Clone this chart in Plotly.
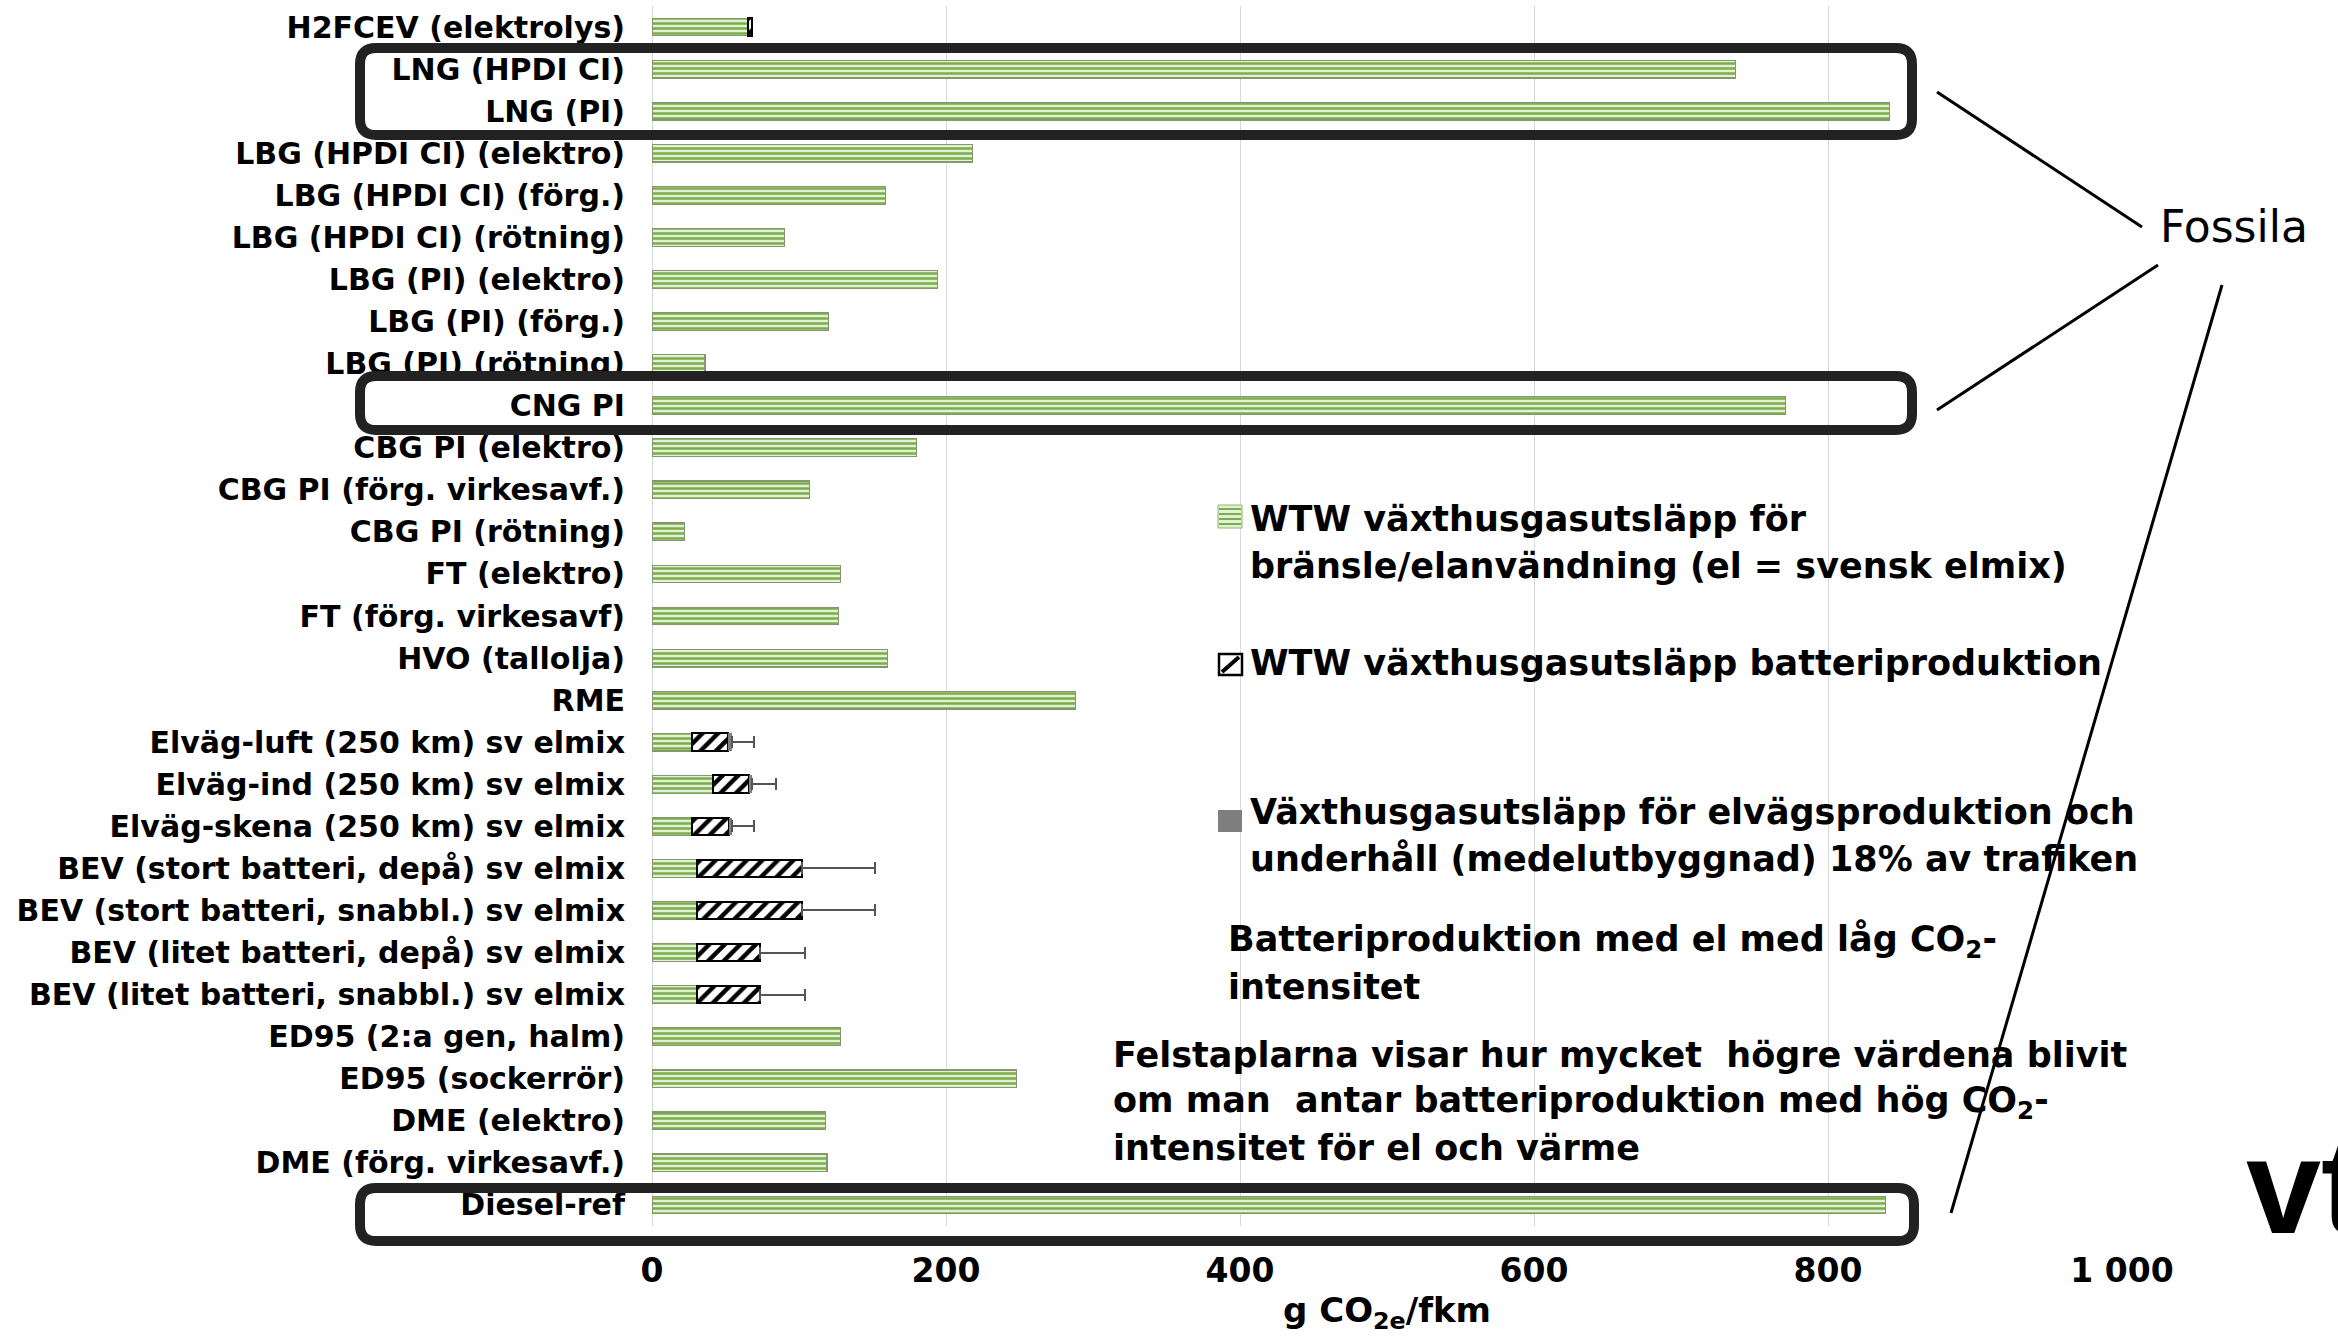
import plotly.graph_objects as go

# ---------------- data ----------------
categories = [
    "H2FCEV (elektrolys)", "LNG (HPDI CI)", "LNG (PI)",
    "LBG (HPDI CI) (elektro)", "LBG (HPDI CI) (förg.)", "LBG (HPDI CI) (rötning)",
    "LBG (PI) (elektro)", "LBG (PI) (förg.)", "LBG (PI) (rötning)",
    "CNG PI", "CBG PI (elektro)", "CBG PI (förg. virkesavf.)", "CBG PI (rötning)",
    "FT (elektro)", "FT (förg. virkesavf)", "HVO (tallolja)", "RME",
    "Elväg-luft (250 km) sv elmix", "Elväg-ind (250 km) sv elmix",
    "Elväg-skena (250 km) sv elmix",
    "BEV (stort batteri, depå) sv elmix", "BEV (stort batteri, snabbl.) sv elmix",
    "BEV (litet batteri, depå) sv elmix", "BEV (litet batteri, snabbl.) sv elmix",
    "ED95 (2:a gen, halm)", "ED95 (sockerrör)", "DME (elektro)",
    "DME (förg. virkesavf.)", "Diesel-ref",
]
wtw_fuel = [65.3, 737, 842, 218, 159, 90, 194, 120, 36, 771, 180, 107, 22,
            128, 127, 160, 288, 27.2, 41.5, 27.2, 30.6, 30.6, 30.6, 30.6,
            128, 248, 118, 119, 839]
wtw_battery = [2.7] + [None] * 16 + [24.5, 24.5, 25.2, 71.4, 71.4, 42.9, 42.9] + [None] * 5
elvag_prod = [None] * 17 + [2.7, 2.0, 2.0, 0, 0, 0, 0] + [None] * 5
err_high_co2 = [None] * 17 + [15, 16.4, 15, 50, 50, 30.5, 30.5] + [None] * 5

x_tickvals = [0, 200, 400, 600, 800, 1000]
x_ticktext = ["0", "200", "400", "600", "800", "1 000"]

legend_lines = [
    ("WTW växthusgasutsläpp för", 519),
    ("bränsle/elanvändning (el = svensk elmix)", 566),
    ("WTW växthusgasutsläpp batteriproduktion", 663),
    ("Växthusgasutsläpp för elvägsproduktion och", 812),
    ("underhåll (medelutbyggnad) 18% av trafiken", 859),
]
note1_lines = ["Batteriproduktion med el med låg CO<sub>2</sub>-", "intensitet"]
note2_lines = ["Felstaplarna visar hur mycket  högre värdena blivit",
               "om man  antar batteriproduktion med hög CO<sub>2</sub>-",
               "intensitet för el och värme"]

# ---------------- layout geometry (pixels) ----------------
W_FIG, H_FIG = 2338, 1339
L, R, T, B = 652, 2122, 6, 1226
PW, PH = R - L, B - T


def px(x):
    return (x - L) / PW


def py(y):
    return (B - y) / PH


FONT = "DejaVu Sans"

fig = go.Figure()

fig.add_trace(go.Bar(
    y=categories, x=wtw_fuel, orientation="h",
    marker=dict(color="#e2f0d4",
                line=dict(color="#86976f", width=1.2),
                pattern=dict(shape="-", size=5, solidity=0.5,
                             fgcolor="#7aae4c", bgcolor="#e2f0d4")),
    showlegend=False,
))
fig.add_trace(go.Bar(
    y=categories, x=wtw_battery, orientation="h",
    marker=dict(color="white",
                line=dict(color="black", width=2),
                pattern=dict(shape="/", size=11, solidity=0.4,
                             fgcolor="black", bgcolor="white")),
    showlegend=False,
))
fig.add_trace(go.Bar(
    y=categories, x=elvag_prod, orientation="h",
    marker=dict(color="#7f7f7f", line=dict(width=0)),
    error_x=dict(type="data", symmetric=False, array=err_high_co2,
                 arrayminus=[0] * len(categories),
                 color="#555555", thickness=2, width=6),
    showlegend=False,
))

shapes = []


def rounded_box(x0, y0, x1, y1, r=16):
    path = (
        f"M {px(x0 + r)},{py(y0)} L {px(x1 - r)},{py(y0)} "
        f"Q {px(x1)},{py(y0)} {px(x1)},{py(y0 + r)} "
        f"L {px(x1)},{py(y1 - r)} "
        f"Q {px(x1)},{py(y1)} {px(x1 - r)},{py(y1)} "
        f"L {px(x0 + r)},{py(y1)} "
        f"Q {px(x0)},{py(y1)} {px(x0)},{py(y1 - r)} "
        f"L {px(x0)},{py(y0 + r)} "
        f"Q {px(x0)},{py(y0)} {px(x0 + r)},{py(y0)} Z"
    )
    return dict(type="path", path=path, xref="paper", yref="paper",
                line=dict(color="#222222", width=10), layer="above")


shapes.append(rounded_box(360, 48, 1912, 135))
shapes.append(rounded_box(360, 376, 1912, 430))
shapes.append(rounded_box(360, 1188, 1914, 1241))

for (xa, ya, xb, yb) in [(1937, 92, 2142, 227), (2158, 265, 1937, 410),
                         (2222, 285, 1951, 1213)]:
    shapes.append(dict(type="line", xref="paper", yref="paper",
                       x0=px(xa), y0=py(ya), x1=px(xb), y1=py(yb),
                       line=dict(color="black", width=3), layer="above"))

# legend swatches
shapes.append(dict(type="rect", xref="paper", yref="paper",
                   x0=px(1218), x1=px(1242), y0=py(505), y1=py(528),
                   fillcolor="#e2f0d4", line=dict(color="#8fb36a", width=1)))
for yy in [509, 514, 519, 524]:
    shapes.append(dict(type="line", xref="paper", yref="paper",
                       x0=px(1219), x1=px(1241), y0=py(yy), y1=py(yy),
                       line=dict(color="#7aae4c", width=2)))
shapes.append(dict(type="rect", xref="paper", yref="paper",
                   x0=px(1219), x1=px(1242), y0=py(654), y1=py(675),
                   fillcolor="white", line=dict(color="black", width=2.5)))
shapes.append(dict(type="line", xref="paper", yref="paper",
                   x0=px(1222), x1=px(1239), y0=py(672), y1=py(657),
                   line=dict(color="black", width=4)))
shapes.append(dict(type="rect", xref="paper", yref="paper",
                   x0=px(1218), x1=px(1242), y0=py(810), y1=py(832),
                   fillcolor="#7f7f7f", line=dict(width=0)))

annotations = []
for text, yc in legend_lines:
    annotations.append(dict(text=text, xref="paper", yref="paper",
                            x=px(1248), y=py(yc), xanchor="left", yanchor="middle",
                            showarrow=False,
                            font=dict(family=FONT, size=35, color="black", weight="bold")))
for text, yc in zip(note1_lines, [941, 987]):
    annotations.append(dict(text=text, xref="paper", yref="paper",
                            x=px(1226), y=py(yc), xanchor="left", yanchor="middle",
                            showarrow=False,
                            font=dict(family=FONT, size=35, color="black", weight="bold")))
for text, yc in zip(note2_lines, [1055, 1102, 1148]):
    annotations.append(dict(text=text, xref="paper", yref="paper",
                            x=px(1111), y=py(yc), xanchor="left", yanchor="middle",
                            showarrow=False,
                            font=dict(family=FONT, size=35, color="black", weight="bold")))
annotations.append(dict(text="Fossila", xref="paper", yref="paper",
                        x=px(2158), y=py(227), xanchor="left", yanchor="middle",
                        showarrow=False,
                        font=dict(family=FONT, size=44, color="black")))
annotations.append(dict(text="vt", xref="paper", yref="paper",
                        x=px(2244), y=py(1186), xanchor="left", yanchor="middle",
                        showarrow=False,
                        font=dict(family="Liberation Sans", size=135, color="black",
                                  weight="bold")))

fig.update_layout(
    template="none",
    width=W_FIG, height=H_FIG,
    margin=dict(l=L, r=W_FIG - R, t=T, b=H_FIG - B, pad=0),
    paper_bgcolor="white", plot_bgcolor="white",
    barmode="stack", bargap=0.58,
    showlegend=False,
    shapes=shapes, annotations=annotations,
    xaxis=dict(range=[0, 1000], tickvals=x_tickvals, ticktext=x_ticktext,
               showgrid=True, gridcolor="#d9d9d9", gridwidth=1,
               zeroline=True, zerolinecolor="#d9d9d9", zerolinewidth=1,
               showline=False, ticks="", ticklabelstandoff=22,
               tickfont=dict(family=FONT, size=33, color="black", weight="bold"),
               title=dict(text="g CO<sub>2e</sub>/fkm", standoff=9,
                          font=dict(family=FONT, size=34, color="black", weight="bold")),
               automargin=False),
    yaxis=dict(type="category", categoryorder="array", categoryarray=categories,
               range=[len(categories) - 0.5, -0.5], dtick=1,
               showgrid=False, zeroline=False, showline=False, ticks="",
               ticklabelstandoff=26,
               tickfont=dict(family=FONT, size=30, color="black", weight="bold"),
               automargin=False),
)

fig.write_html(
    "out.html",
    config={"displayModeBar": False},
    post_script="document.body.style.margin='0px';"
                "document.documentElement.style.margin='0px';"
                "document.body.style.overflow='hidden';",
)
